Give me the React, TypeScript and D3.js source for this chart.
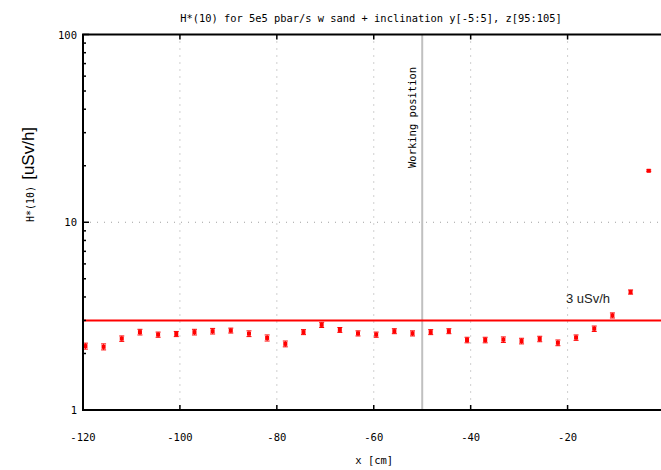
import React from 'react';
import * as d3 from 'd3';

// positions along x [cm]
const xPos = [
  -119.5, -115.75, -112, -108.25, -104.5, -100.75, -97, -93.25,
  -89.5, -85.75, -82, -78.25, -74.5, -70.75, -67, -63.25,
  -59.5, -55.75, -52, -48.25, -44.5, -40.75, -37, -33.25,
  -29.5, -25.75, -22, -18.25, -14.5, -10.75, -7, -3.25,
];
// H*(10) [uSv/h]
const dose = [
  2.19, 2.17, 2.4, 2.6, 2.52, 2.54, 2.6, 2.63,
  2.65, 2.55, 2.42, 2.25, 2.6, 2.84, 2.67, 2.56,
  2.52, 2.63, 2.56, 2.6, 2.63, 2.36, 2.36, 2.37,
  2.33, 2.39, 2.28, 2.43, 2.71, 3.19, 4.25, 18.8,
];
const doseErr = [
  0.08, 0.08, 0.08, 0.09, 0.08, 0.08, 0.09, 0.09,
  0.08, 0.09, 0.09, 0.08, 0.08, 0.09, 0.08, 0.08,
  0.08, 0.08, 0.08, 0.08, 0.08, 0.08, 0.08, 0.08,
  0.08, 0.08, 0.08, 0.08, 0.09, 0.1, 0.11, 0.2,
];
const xTicks = [-120, -100, -80, -60, -40, -20];
const yMajor = [1, 10, 100];
const limitValue = 3;
const workingX = -50;

const W = 661;
const H = 470;
const mono = '"DejaVu Sans Mono", monospace';
const sans = '"Liberation Sans", Arial, sans-serif';

export default function App() {
  const x = d3.scaleLinear().domain([-120, 0]).range([83, 664.5]);
  const y = d3.scaleLog().domain([1, 100]).range([410, 34.5]);
  const [x0, x1] = x.range();
  const [y0, y1] = y.range();
  const yMinor = d3.range(2, 10).flatMap(m => [m, m * 10]);

  return (
    <div style={{ position: 'fixed', left: 0, top: 0 }}>
      <svg width={W} height={H} style={{ display: 'block', background: '#fff' }}>
        <text x={371} y={22} textAnchor="middle" fontFamily={mono} fontSize={10.4} fill="#000">
          H*(10) for 5e5 pbar/s w sand + inclination y[-5:5], z[95:105]
        </text>

        {/* grid */}
        {xTicks.slice(1).map(t => (
          <line key={'gx' + t} x1={x(t)} x2={x(t)} y1={y1} y2={y0}
            stroke="#a0a0a0" strokeWidth={1} strokeDasharray="1,6" />
        ))}
        <line x1={x0} x2={x1} y1={y(10)} y2={y(10)} stroke="#a0a0a0" strokeWidth={1} strokeDasharray="1,6" />

        {/* working position */}
        <line x1={x(workingX)} x2={x(workingX)} y1={y1} y2={y0} stroke="#c0c0c0" strokeWidth={2} />
        <text transform={`translate(${x(workingX) - 6},168) rotate(-90)`} fontFamily={mono} fontSize={10.5} fill="#000">
          Working position
        </text>

        {/* limit line */}
        <line x1={x0} x2={x1} y1={y(limitValue)} y2={y(limitValue)} stroke="#ff0000" strokeWidth={2} />
        <text x={566} y={303} fontFamily={sans} fontSize={13} fill="#222">3 uSv/h</text>

        {/* data with error bars */}
        {xPos.map((xv, i) => {
          const cx = x(xv);
          const lo = y(dose[i] - doseErr[i]);
          const hi = y(dose[i] + doseErr[i]);
          const cy = y(dose[i]);
          return (
            <g key={i} stroke="#ff0000" fill="#ff0000">
              <line x1={cx} x2={cx} y1={lo} y2={hi} strokeWidth={1} />
              <line x1={cx - 2.5} x2={cx + 2.5} y1={lo} y2={lo} strokeWidth={1} />
              <line x1={cx - 2.5} x2={cx + 2.5} y1={hi} y2={hi} strokeWidth={1} />
              <rect x={cx - 2} y={cy - 2} width={4} height={4} stroke="none" />
            </g>
          );
        })}

        {/* ticks */}
        {xTicks.map(t => (
          <g key={'tx' + t}>
            <line x1={x(t)} x2={x(t)} y1={y0} y2={y0 - 5} stroke="#000" strokeWidth={1.5} />
            <line x1={x(t)} x2={x(t)} y1={y1} y2={y1 + 5} stroke="#000" strokeWidth={1.5} />
            <text x={x(t)} y={441} textAnchor="middle" fontFamily={mono} fontSize={10.5} fill="#000">{t}</text>
          </g>
        ))}
        {yMinor.map(m => (
          <line key={'ym' + m} x1={x0} x2={x0 + 3} y1={y(m)} y2={y(m)} stroke="#000" strokeWidth={1.5} />
        ))}
        {yMajor.map(t => (
          <g key={'ty' + t}>
            <line x1={x0} x2={x0 + 6} y1={y(t)} y2={y(t)} stroke="#000" strokeWidth={1.5} />
            <text x={x0 - 6} y={y(t) + 4} textAnchor="end" fontFamily={mono} fontSize={10.5} fill="#000">{t}</text>
          </g>
        ))}

        {/* border */}
        <rect x={x0} y={y1} width={x1 - x0} height={y0 - y1} fill="none" stroke="#000" strokeWidth={2} />

        {/* axis labels */}
        <text x={x(-50) - 48} y={464} textAnchor="middle" fontFamily={mono} fontSize={10.5} fill="#000">x [cm]</text>
        <text transform="translate(34,222) rotate(-90)" fontFamily={sans} fill="#000">
          <tspan fontFamily={mono} fontSize={10}>H*(10) </tspan>
          <tspan fontSize={17}>[uSv/h]</tspan>
        </text>
      </svg>
    </div>
  );
}
